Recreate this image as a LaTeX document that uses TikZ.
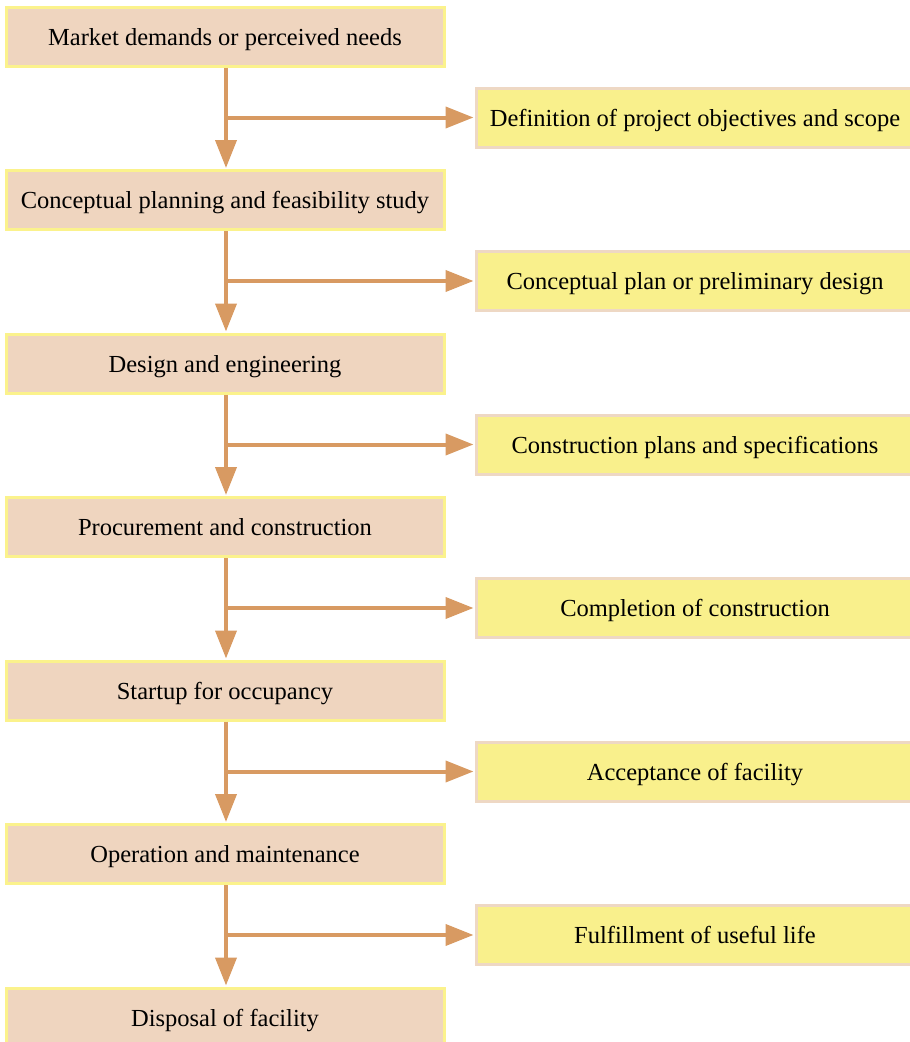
\documentclass[tikz,border=0pt]{standalone}
\usepackage{fontspec}
\setmainfont{Liberation Serif}
\usetikzlibrary{arrows.meta}
\definecolor{tanfill}{HTML}{EFD5BF}
\definecolor{yelborder}{HTML}{FBF28C}
\definecolor{yelfill}{HTML}{F9F08C}
\definecolor{tanborder}{HTML}{EED8C4}
\definecolor{arrowc}{HTML}{D89A62}
\tikzset{
  boxbase/.style={line width=3pt, minimum width=438pt, minimum height=59pt, inner sep=0pt, text height=17pt, text depth=0pt, font=\fontsize{24.5}{28}\selectfont},
  phase/.style={boxbase, draw=yelborder, fill=tanfill},
  outcome/.style={boxbase, draw=tanborder, fill=yelfill},
  flow/.style={draw=arrowc, line width=4pt, -{Triangle[length=28pt,width=21pt]}, shorten >=1pt}
}
\begin{document}
\begin{tikzpicture}[x=1pt,y=-1pt]
\useasboundingbox (0,0) rectangle (910,1042);
\node[phase] (L0) at (225,36.5) {Market demands or perceived needs};
\node[phase] (L1) at (225,200) {Conceptual planning and feasibility study};
\node[phase] (L2) at (225,363.5) {Design and engineering};
\node[phase] (L3) at (225,527) {Procurement and construction};
\node[phase] (L4) at (225,690.5) {Startup for occupancy};
\node[phase] (L5) at (225,854) {Operation and maintenance};
\node[phase] (L6) at (225,1017.5) {Disposal of facility};
\node[outcome] (R0) at (695,117.5) {Definition of project objectives and scope};
\node[outcome] (R1) at (695,281) {Conceptual plan or preliminary design};
\node[outcome] (R2) at (695,444.5) {Construction plans and specifications};
\node[outcome] (R3) at (695,608) {Completion of construction};
\node[outcome] (R4) at (695,771.5) {Acceptance of facility};
\node[outcome] (R5) at (695,935) {Fulfillment of useful life};
\foreach \i/\j in {0/1,1/2,2/3,3/4,4/5,5/6}{
  \draw[flow] ([xshift=1pt]L\i.south) -- ([xshift=1pt]L\j.north);
  \coordinate (B\i) at ([xshift=1pt]L\i.south |- R\i.west);
  \draw[flow] ([xshift=-2pt]B\i) -- (R\i.west);
}
\end{tikzpicture}
\end{document}
